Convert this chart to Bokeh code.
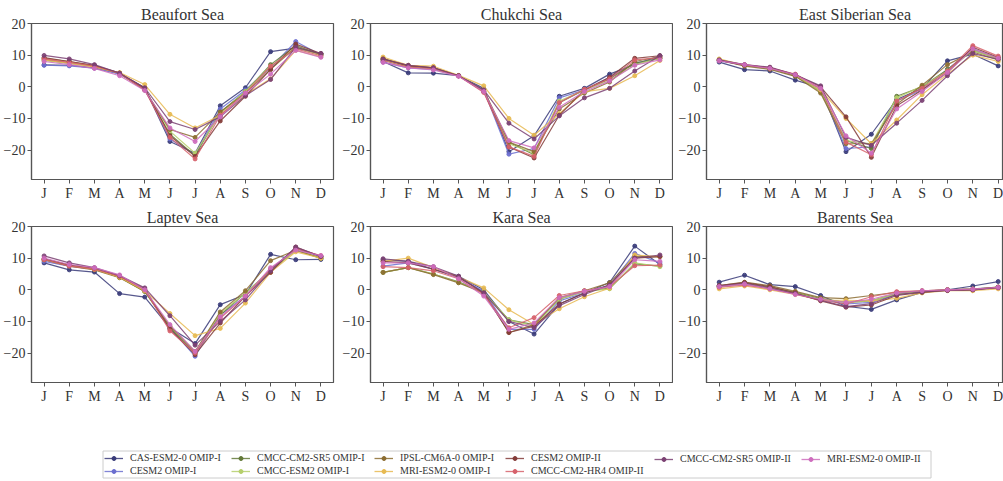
from bokeh.plotting import figure
from bokeh.layouts import column, row
from bokeh.models import FixedTicker, Range1d, Legend, LegendItem
from bokeh.embed import file_html
from bokeh.resources import INLINE

MONTHS = ["J", "F", "M", "A", "M", "J", "J", "A", "S", "O", "N", "D"]
MODELS = ["CAS-ESM2-0 OMIP-I", "CESM2 OMIP-I", "CMCC-CM2-SR5 OMIP-I", "CMCC-ESM2 OMIP-I",
          "IPSL-CM6A-0 OMIP-I", "MRI-ESM2-0 OMIP-I", "CESM2 OMIP-II", "CMCC-CM2-HR4 OMIP-II",
          "CMCC-CM2-SR5 OMIP-II", "MRI-ESM2-0 OMIP-II"]
COLORS = ["#393b79", "#6b6ecf", "#637939", "#b5cf6b", "#8c6d31", "#e7ba52",
          "#843c39", "#d6616b", "#7b4173", "#ce6dbd"]
Y_TICKS = [-20, -10, 0, 10, 20]

# values per model (order as MODELS)
BEAUFORT = [
    [6.9, 6.8, 6.0, 4.2, -0.3, -17.3, -21.0, -6.0, -0.3, 11.1, 12.2, 10.5],
    [6.8, 6.6, 5.9, 4.0, -0.5, -16.5, -21.5, -7.0, -1.0, 6.0, 14.3, 10.0],
    [8.5, 7.5, 6.5, 4.3, -1.0, -15.0, -21.8, -8.0, -1.5, 7.0, 13.0, 10.2],
    [8.3, 7.4, 6.3, 4.3, -0.8, -14.0, -21.0, -8.5, -1.5, 6.5, 12.5, 10.0],
    [9.0, 8.0, 6.6, 4.3, -1.0, -13.5, -16.0, -8.0, -2.0, 5.5, 12.5, 10.3],
    [8.5, 7.5, 6.3, 4.5, 0.7, -8.7, -13.0, -9.0, -2.5, 2.5, 11.5, 9.5],
    [9.2, 8.0, 6.8, 4.3, -0.5, -15.5, -22.0, -10.8, -3.0, 5.5, 13.5, 10.5],
    [8.8, 7.7, 6.5, 4.2, -1.0, -16.0, -22.8, -9.0, -2.0, 6.5, 12.0, 9.8],
    [9.9, 8.8, 7.0, 4.3, -0.3, -11.0, -13.5, -9.5, -2.8, 2.3, 12.5, 10.5],
    [8.0, 7.0, 5.8, 3.5, -1.2, -13.0, -17.3, -9.5, -2.0, 4.0, 11.5, 9.3],
]
CHUKCHI = [
    [8.0, 4.4, 4.3, 3.5, -0.5, -20.5, -15.5, -3.0, -0.5, 4.0, 7.0, 9.8],
    [7.8, 6.0, 5.5, 3.5, -1.0, -21.3, -19.5, -3.5, -1.0, 3.0, 7.5, 9.0],
    [8.5, 6.5, 6.0, 3.5, -1.5, -17.5, -21.5, -5.0, -1.0, 2.5, 7.5, 9.0],
    [8.5, 6.3, 5.8, 3.5, -1.3, -18.0, -21.0, -4.5, -1.0, 2.0, 7.0, 9.0],
    [9.0, 6.5, 6.0, 3.5, -1.0, -17.5, -20.5, -7.0, -2.0, 1.5, 8.0, 9.5],
    [9.4, 6.8, 6.5, 3.6, 0.3, -10.0, -15.3, -8.5, -1.5, -0.5, 3.5, 8.3],
    [8.8, 6.7, 6.0, 3.5, -1.5, -19.0, -22.5, -9.0, -1.0, 3.0, 9.0, 9.8],
    [8.3, 6.2, 5.7, 3.4, -1.8, -19.0, -22.0, -5.0, -0.8, 2.5, 8.5, 9.2],
    [8.7, 6.8, 6.0, 3.5, -1.0, -11.5, -16.5, -9.2, -3.5, -0.5, 5.0, 9.8],
    [7.7, 6.0, 5.3, 3.3, -1.5, -17.0, -19.3, -6.5, -1.5, 1.8, 6.8, 8.5],
]
EAST_SIBERIAN = [
    [7.8, 5.4, 5.0, 2.1, -0.3, -20.5, -15.0, -4.0, -0.5, 8.2, 10.3, 6.6],
    [8.2, 6.8, 5.8, 3.5, -1.0, -19.5, -19.0, -4.5, -1.0, 5.5, 12.0, 9.0],
    [8.5, 6.8, 5.8, 3.5, -1.5, -17.0, -19.5, -3.0, 0.0, 5.5, 11.5, 9.0],
    [8.5, 6.8, 5.8, 3.5, -1.5, -17.0, -18.0, -3.5, 0.2, 5.0, 11.5, 9.0],
    [8.5, 6.5, 5.5, 3.3, -2.0, -18.0, -18.0, -5.5, 0.5, 7.0, 11.0, 8.5],
    [8.8, 6.8, 6.0, 3.8, -1.0, -10.0, -18.0, -10.5, -2.5, 4.0, 10.0, 8.0],
    [8.3, 6.8, 6.0, 3.8, 0.0, -9.5, -22.3, -6.0, -1.0, 4.5, 12.5, 9.3],
    [8.3, 7.0, 6.0, 4.0, -0.5, -17.5, -21.5, -4.5, -0.5, 5.0, 13.0, 9.7],
    [8.5, 7.0, 6.2, 3.8, 0.3, -16.0, -18.5, -11.5, -4.3, 3.5, 10.5, 8.7],
    [8.2, 7.0, 5.8, 3.8, -0.5, -15.5, -21.0, -7.0, -1.5, 4.5, 12.0, 9.0],
]
LAPTEV = [
    [8.5, 6.3, 5.6, -1.2, -2.3, -12.0, -17.0, -4.7, -1.5, 11.2, 9.5, 9.6],
    [9.0, 7.5, 6.5, 4.2, 0.0, -12.0, -21.0, -8.0, -2.0, 6.5, 13.0, 10.5],
    [9.5, 7.8, 6.5, 4.0, -0.5, -12.0, -20.0, -8.0, -1.0, 6.0, 12.5, 10.0],
    [9.5, 7.8, 6.5, 4.0, -0.5, -11.5, -19.5, -7.5, -1.0, 6.0, 12.5, 10.0],
    [9.5, 7.5, 6.3, 3.8, -0.5, -11.5, -19.5, -7.0, -0.3, 9.2, 12.5, 10.0],
    [9.8, 7.8, 6.5, 4.0, -0.3, -7.5, -14.5, -12.2, -4.2, 5.5, 12.0, 10.0],
    [9.8, 7.8, 6.8, 4.3, 0.3, -12.5, -20.5, -10.5, -2.0, 5.5, 13.5, 10.5],
    [9.5, 7.5, 6.5, 4.3, 0.0, -13.0, -20.0, -9.0, -2.0, 6.5, 13.0, 10.8],
    [10.7, 8.5, 7.0, 4.5, 0.6, -8.2, -17.5, -10.0, -3.2, 6.0, 13.5, 10.5],
    [10.0, 8.0, 7.0, 4.7, 0.0, -11.0, -19.5, -8.5, -2.0, 7.0, 12.5, 10.8],
]
KARA = [
    [9.5, 9.0, 6.5, 4.3, 0.0, -10.0, -14.0, -4.5, -1.0, 2.3, 13.8, 8.0],
    [7.5, 8.5, 6.5, 3.8, -0.5, -12.5, -12.5, -3.5, -1.0, 1.5, 11.5, 8.5],
    [5.5, 7.0, 5.0, 2.5, -0.8, -9.5, -11.0, -3.0, -0.5, 0.5, 8.2, 7.5],
    [5.5, 7.0, 5.0, 2.3, -0.8, -9.5, -11.5, -3.0, -0.5, 0.3, 8.5, 7.3],
    [5.5, 7.0, 4.8, 2.2, -1.0, -13.5, -11.0, -2.5, -0.3, 2.2, 10.5, 10.5],
    [9.0, 10.0, 7.0, 4.0, 0.6, -6.3, -11.0, -6.0, -2.2, 0.5, 11.0, 10.5],
    [9.0, 8.5, 6.5, 4.0, -1.0, -13.5, -11.5, -4.5, -1.0, 1.5, 10.0, 10.5],
    [7.3, 7.0, 6.0, 3.5, -1.5, -12.0, -8.8, -1.8, -0.3, 1.0, 7.6, 7.8],
    [9.8, 9.0, 7.3, 4.3, -1.0, -10.0, -12.0, -5.0, -1.5, 1.5, 10.0, 11.0],
    [8.5, 8.5, 7.3, 3.5, -2.0, -12.5, -10.5, -2.5, -0.5, 1.0, 9.5, 9.0],
]
BARENTS = [
    [2.4, 4.6, 1.6, 1.0, -1.8, -5.2, -6.2, -3.2, -0.8, 0.0, 1.2, 2.6],
    [1.0, 2.0, 0.5, -1.0, -3.0, -4.5, -4.0, -1.5, -0.5, 0.0, 0.2, 0.8],
    [1.0, 2.0, 0.8, -0.8, -2.8, -4.0, -3.5, -1.2, -0.5, 0.0, 0.3, 0.8],
    [0.8, 1.8, 0.5, -1.0, -3.0, -4.0, -3.5, -1.2, -0.5, 0.0, 0.2, 0.7],
    [1.3, 2.4, 1.3, -0.5, -2.5, -2.8, -1.8, -0.8, -0.3, 0.0, 0.0, 0.9],
    [0.3, 1.2, 0.0, -1.5, -3.3, -3.3, -3.5, -2.7, -1.0, -0.3, -0.3, 0.3],
    [1.3, 2.3, 1.0, -1.0, -3.5, -5.5, -4.8, -1.8, -0.8, -0.2, 0.0, 0.8],
    [0.8, 1.5, 0.3, -1.3, -3.3, -4.5, -2.2, -0.6, -0.3, 0.0, 0.2, 0.6],
    [1.2, 2.0, 0.5, -1.2, -3.3, -5.3, -4.4, -1.5, -0.7, -0.2, 0.0, 0.7],
    [1.0, 1.8, 0.3, -1.5, -3.0, -4.0, -3.0, -1.0, -0.3, 0.0, 0.2, 0.8],
]

FONT = "Liberation Serif"
AXIS_COLOR = "#555555"
TEXT_COLOR = "#333333"


def make_panel(title, data, width, border_left, border_right, x_end=11.5):
    p = figure(width=width, height=203, output_backend="svg", toolbar_location=None,
               x_range=Range1d(-0.5, x_end), y_range=Range1d(-29.3, 20),
               min_border_left=border_left, min_border_right=border_right,
               min_border_top=23, min_border_bottom=22, title=title)
    p.title.text_font = FONT
    p.title.text_font_size = "16px"
    p.title.text_font_style = "normal"
    p.title.text_color = TEXT_COLOR
    p.title.align = "center"
    p.title.standoff = 1
    p.title.offset = 0
    p.grid.visible = False
    p.outline_line_color = AXIS_COLOR
    p.outline_line_width = 1.2
    p.background_fill_color = "white"
    p.border_fill_color = "white"
    p.xaxis.ticker = FixedTicker(ticks=list(range(12)))
    p.xaxis.major_label_overrides = {i: m for i, m in enumerate(MONTHS)}
    p.yaxis.ticker = FixedTicker(ticks=Y_TICKS)
    for ax in (p.xaxis[0], p.yaxis[0]):
        ax.axis_line_color = AXIS_COLOR
        ax.axis_line_width = 1.2
        ax.major_tick_line_color = AXIS_COLOR
        ax.major_tick_out = 4
        ax.major_tick_in = 0
        ax.minor_tick_line_color = None
        ax.major_label_text_font = FONT
        ax.major_label_text_font_size = "14px"
        ax.major_label_text_color = TEXT_COLOR
        ax.major_label_standoff = 2
    xs = list(range(12))
    for vals, col in zip(data, COLORS):
        p.line(xs, vals, line_color=col, line_width=1.2, line_alpha=0.85)
        p.scatter(xs, vals, marker="circle", size=4, fill_color=col, line_color=col, alpha=0.9)
    return p


p1 = make_panel("Beaufort Sea", BEAUFORT, 339, 28, 6)
p2 = make_panel("Chukchi Sea", CHUKCHI, 334, 28, 1)
p3 = make_panel("East Siberian Sea", EAST_SIBERIAN, 330, 33, 0, x_end=11.21)
p4 = make_panel("Laptev Sea", LAPTEV, 339, 28, 6)
p5 = make_panel("Kara Sea", KARA, 334, 28, 1)
p6 = make_panel("Barents Sea", BARENTS, 330, 33, 0, x_end=11.21)

# legend figure: its coordinates are pixels; dummy renderers lie outside the visible range
pl = figure(width=1003, height=75, output_backend="svg", toolbar_location=None,
            x_axis_type=None, y_axis_type=None, min_border=0,
            x_range=Range1d(0, 1003), y_range=Range1d(0, 75))
pl.outline_line_color = None
pl.grid.visible = False
# legend frame
pl.quad(left=[102.5], right=[930.5], bottom=[3.5], top=[30.5], fill_color="white",
        line_color="#cccccc", line_width=1)
items = []
for name, col in zip(MODELS, COLORS):
    lr = pl.line([-20, -10], [-20, -20], line_color=col, line_width=1.3, line_alpha=0.85)
    sr = pl.scatter([-20], [-20], marker="circle", size=4, fill_color=col, line_color=col)
    items.append(LegendItem(label=name, renderers=[lr, sr]))

# legend columns (matplotlib-like column-major layout, 6 columns)
LEGEND_COLUMNS = [[0, 1], [2, 3], [4, 5], [6, 7], [8], [9]]
COLUMN_X = [104, 231, 374, 505, 654, 801]
for idxs, cx in zip(LEGEND_COLUMNS, COLUMN_X):
    n = len(idxs)
    leg = Legend(items=[items[i] for i in idxs], orientation="vertical",
                 location=(cx, 5 if n == 2 else 17), label_text_font=FONT,
                 label_text_font_size="10px", label_text_color=TEXT_COLOR,
                 glyph_width=19, glyph_height=10, label_height=10, label_standoff=7,
                 spacing=2, padding=0, margin=0, border_line_color=None,
                 background_fill_alpha=0.0)
    pl.add_layout(leg, "center")

layout = column(row(p1, p2, p3), row(p4, p5, p6), pl)
open("out.html", "w").write(file_html(layout, INLINE))
